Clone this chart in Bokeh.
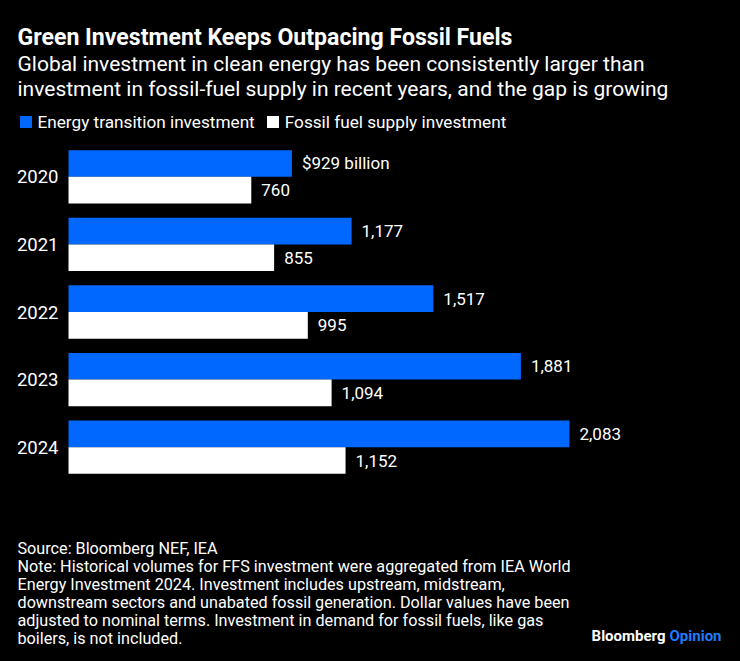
from bokeh.plotting import figure
from bokeh.models import Range1d, Label, Legend, LegendItem, ColumnDataSource
from bokeh.transform import dodge
from bokeh.embed import file_html
from bokeh.resources import INLINE
from bokeh.core.properties import value

# ---- data ----
years = [2020, 2021, 2022, 2023, 2024]
energy_transition = [929, 1177, 1517, 1881, 2083]
fossil_supply = [760, 855, 995, 1094, 1152]
series_names = ["Energy transition investment", "Fossil fuel supply investment"]

title_text = "Green Investment Keeps Outpacing Fossil Fuels"
subtitle_lines = [
    "Global investment in clean energy has been consistently larger than",
    "investment in fossil-fuel supply in recent years, and the gap is growing",
]
footnote_lines = [
    "Source: Bloomberg NEF, IEA",
    "Note: Historical volumes for FFS investment were aggregated from IEA World",
    "Energy Investment 2024. Investment includes upstream, midstream,",
    "downstream sectors and unabated fossil generation. Dollar values have been",
    "adjusted to nominal terms. Investment in demand for fossil fuels, like gas",
    "boilers, is not included.",
]

# ---- style ----
BLUE = "#0068FF"
FONT = "Roboto"
W, H = 740, 661
X0_PX = 68          # pixel of value 0
PX_PER_UNIT = 0.2405
Y0_PX = 176.3       # pixel of first year's centre
PX_PER_YEAR = 67.6

et_labels = [f"{v:,}" for v in energy_transition]
et_labels[0] = f"${energy_transition[0]:,} billion"
ff_labels = [f"{v:,}" for v in fossil_supply]

source = ColumnDataSource(dict(year=years, et=energy_transition, ff=fossil_supply,
                               et_label=et_labels, ff_label=ff_labels,
                               year_label=[str(y) for y in years],
                               zero=[0] * len(years)))

y_top = years[0] - Y0_PX / PX_PER_YEAR
y_bottom = years[0] + (H - Y0_PX) / PX_PER_YEAR
p = figure(width=W, height=H, output_backend="svg", toolbar_location=None,
           x_range=Range1d(-X0_PX / PX_PER_UNIT, (W - X0_PX) / PX_PER_UNIT),
           y_range=Range1d(y_bottom, y_top),
           min_border=0, background_fill_color="black", border_fill_color="black",
           outline_line_color=None)
p.axis.visible = False
p.grid.visible = False

BH = 0.394
r1 = p.hbar(y=dodge("year", -BH / 2, range=p.y_range), left=0, right="et", height=BH,
            fill_color=BLUE, line_color=None, source=source)
r2 = p.hbar(y=dodge("year", BH / 2, range=p.y_range), left=0, right="ff", height=BH,
            fill_color="white", line_color=None, source=source)

for col, lab, off in (("et", "et_label", -BH / 2), ("ff", "ff_label", BH / 2)):
    p.text(x=col, y=dodge("year", off, range=p.y_range), text=lab, source=source,
           x_offset=10, text_baseline="middle", text_align="left",
           text_color="white", text_font=value(FONT), text_font_size="17px")

p.text(x="zero", y="year", text="year_label", source=source, x_offset=-10,
       text_baseline="middle", text_align="right", text_color="white",
       text_font=value(FONT), text_font_size="18.5px")

legend = Legend(items=[LegendItem(label=series_names[0], renderers=[r1]),
                       LegendItem(label=series_names[1], renderers=[r2])],
                orientation="horizontal", location=(17.5, H - 131.5),
                glyph_width=15, glyph_height=15, label_height=15, label_standoff=5,
                spacing=10, padding=0, margin=0,
                background_fill_alpha=0, border_line_color=None,
                label_text_color="white", label_text_font=FONT,
                label_text_font_size="17.2px")
p.add_layout(legend)


def add_label(text, fx, fy, size, bold=False, color="white", align="left"):
    p.add_layout(Label(x=fx, y=H - fy, x_units="screen", y_units="screen",
                       text=text, text_align=align, text_baseline="middle",
                       text_color=color, text_font=FONT, text_font_size=size,
                       text_font_style="bold" if bold else "normal"))


add_label(title_text, 17, 37, "23.1px", bold=True)
for i, line in enumerate(subtitle_lines):
    add_label(line, 17, 63 + 25 * i, "21px")
for i, line in enumerate(footnote_lines):
    add_label(line, 17, 548 + 18 * i, "16.2px")
add_label("Bloomberg", 665, 635, "15px", bold=True, align="right")
add_label("Opinion", 669, 635, "15px", bold=True, color="#1F7BFF")

html = file_html(p, INLINE, title="Green Investment Keeps Outpacing Fossil Fuels")
html = html.replace("<head>", "<head><style>body{background:#000;}</style>", 1)
open("out.html", "w").write(html)
